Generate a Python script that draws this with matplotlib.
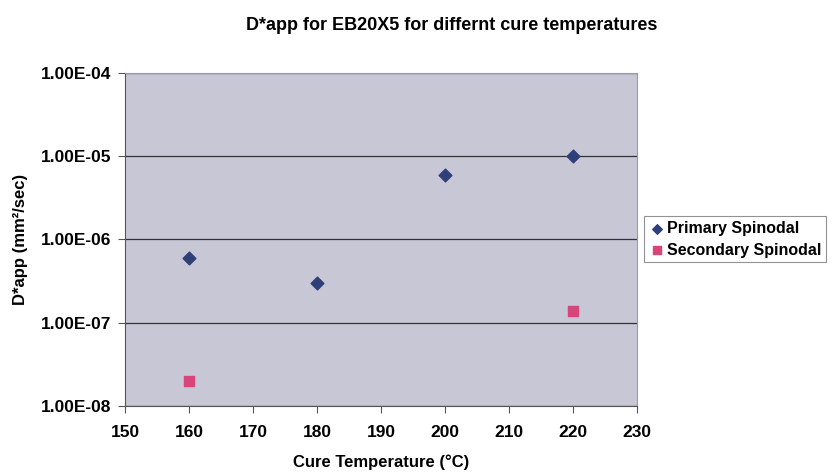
import matplotlib
matplotlib.use("Agg")
import matplotlib.pyplot as plt
from matplotlib.ticker import FixedLocator, NullLocator

plt.rcParams['font.family'] = ['Liberation Sans', 'DejaVu Sans']
plt.rcParams['font.weight'] = 'bold'

temps_primary = [160, 180, 200, 220]
d_primary = [6.0e-7, 3.0e-7, 6.0e-6, 1.0e-5]
temps_secondary = [160, 220]
d_secondary = [2.0e-8, 1.4e-7]
x_ticks = [150, 160, 170, 180, 190, 200, 210, 220, 230]
y_ticks = [1e-8, 1e-7, 1e-6, 1e-5, 1e-4]

fig = plt.figure(figsize=(8.36, 4.72), dpi=100)
ax = fig.add_axes([0.1495, 0.140, 0.6125, 0.7055])
ax.set_facecolor('#c7c7d6')

ax.scatter(temps_primary, d_primary, marker='D', s=42, color='#2f3f78',
           label='Primary Spinodal', zorder=3)
ax.scatter(temps_secondary, d_secondary, marker='s', s=55, color='#d8457a',
           label='Secondary Spinodal', zorder=3)

ax.set_yscale('log')
ax.set_ylim(1e-8, 1e-4)
ax.set_xlim(150, 230)
ax.xaxis.set_major_locator(FixedLocator(x_ticks))
ax.yaxis.set_major_locator(FixedLocator(y_ticks))
ax.yaxis.set_minor_locator(NullLocator())
ax.set_yticklabels([f'{v:.2E}' for v in y_ticks])
ax.grid(axis='y', color='#333333', linewidth=0.9)
ax.set_axisbelow(True)

for s in ['top', 'right']:
    ax.spines[s].set_color('#9a9aa8')
for s in ['left', 'bottom']:
    ax.spines[s].set_color('#555555')
ax.tick_params(direction='out', length=5, color='#555555', labelsize=12.5)
ax.tick_params(axis='x', pad=9)
ax.tick_params(axis='y', pad=5)

ax.set_xlabel('Cure Temperature (°C)', fontsize=12, fontweight='bold', labelpad=10)
ax.set_ylabel('D*app (mm²/sec)', fontsize=12, fontweight='bold', labelpad=9)
fig.suptitle('D*app for EB20X5 for differnt cure temperatures', fontsize=13,
             fontweight='bold', x=0.54, y=0.965)

leg = ax.legend(loc='center left', bbox_to_anchor=(1.005, 0.5), fontsize=11.5,
                frameon=True, fancybox=False, handletextpad=0.1,
                borderpad=0.3, labelspacing=0.4, handlelength=1.0,
                borderaxespad=0.3, markerscale=0.75)
leg.get_frame().set_edgecolor('#777777')
leg.get_frame().set_linewidth(0.8)

fig.savefig('out.png', dpi=100)
